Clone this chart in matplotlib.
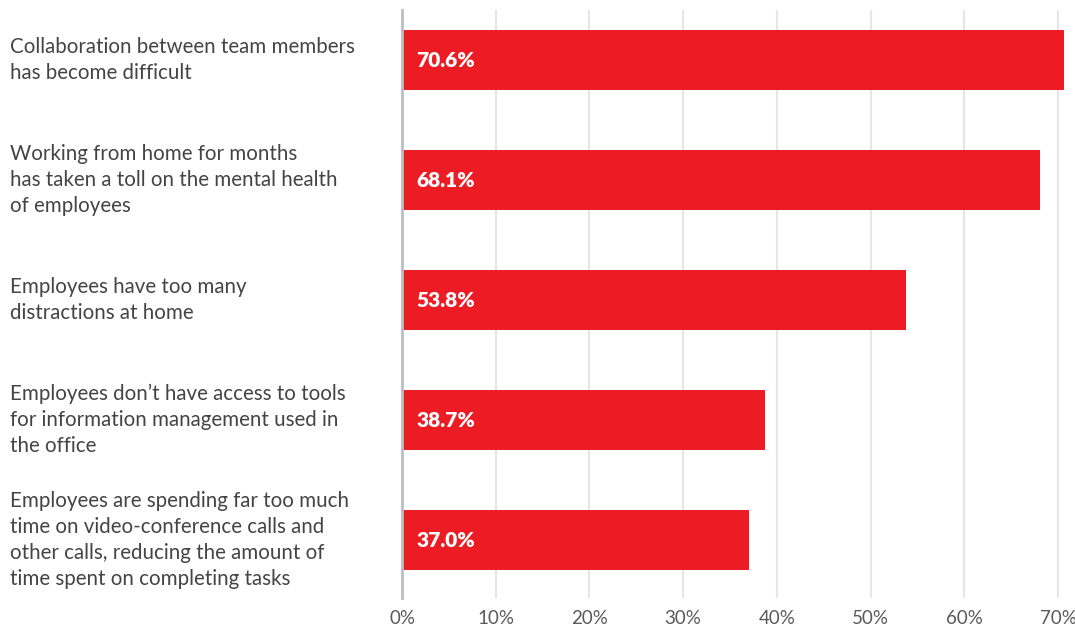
import matplotlib
matplotlib.use("Agg")
import matplotlib.pyplot as plt
from matplotlib.transforms import blended_transform_factory

categories = [
    "Collaboration between team members\nhas become difficult",
    "Working from home for months\nhas taken a toll on the mental health\nof employees",
    "Employees have too many\ndistractions at home",
    "Employees don\u2019t have access to tools\nfor information management used in\nthe office",
    "Employees are spending far too much\ntime on video-conference calls and\nother calls, reducing the amount of\ntime spent on completing tasks",
]
values = [70.6, 68.1, 53.8, 38.7, 37.0]
xticks = [0, 10, 20, 30, 40, 50, 60, 70]
xtick_labels = [f"{t}%" for t in xticks]

plt.rcParams["font.family"] = ["Lato", "DejaVu Sans"]

W, H = 1075, 630
fig = plt.figure(figsize=(W / 100, H / 100), dpi=100)
left_px, right_px, top_px, bottom_px = 402, 1072, 10, 598
ax = fig.add_axes([left_px / W, 1 - bottom_px / H,
                   (right_px - left_px) / W, (bottom_px - top_px) / H])

bar_color = "#ED1C24"
ypos = list(range(len(values)))
ax.barh(ypos, values, height=0.5, color=bar_color, zorder=3)

ax.set_xlim(0, 71.5)
ax.set_ylim(len(values) - 1 + 0.483, -0.417)

ax.set_xticks(xticks)
ax.set_xticklabels(xtick_labels, fontsize=13.5, color="#5a5a5a")
ax.tick_params(axis="x", length=0, pad=9)
ax.set_yticks([])
ax.grid(axis="x", color="#e6e6e6", linewidth=1.5, zorder=0)

for s in ["top", "right", "bottom"]:
    ax.spines[s].set_visible(False)
ax.spines["left"].set_color("#bdbdbd")
ax.spines["left"].set_linewidth(2)
ax.spines["left"].set_zorder(4)

for y, v in zip(ypos, values):
    ax.text(1.5, y, f"{v:.1f}%", color="white", fontsize=15,
            fontweight="heavy", va="center", ha="left", zorder=5)

label_tf = blended_transform_factory(fig.transFigure, ax.transData)
for y, label in zip(ypos, categories):
    ax.text(10 / W, y, label, transform=label_tf,
            ha="left", va="center", fontsize=14.8, color="#444444", linespacing=1.38)

fig.savefig("out.png", dpi=100)
